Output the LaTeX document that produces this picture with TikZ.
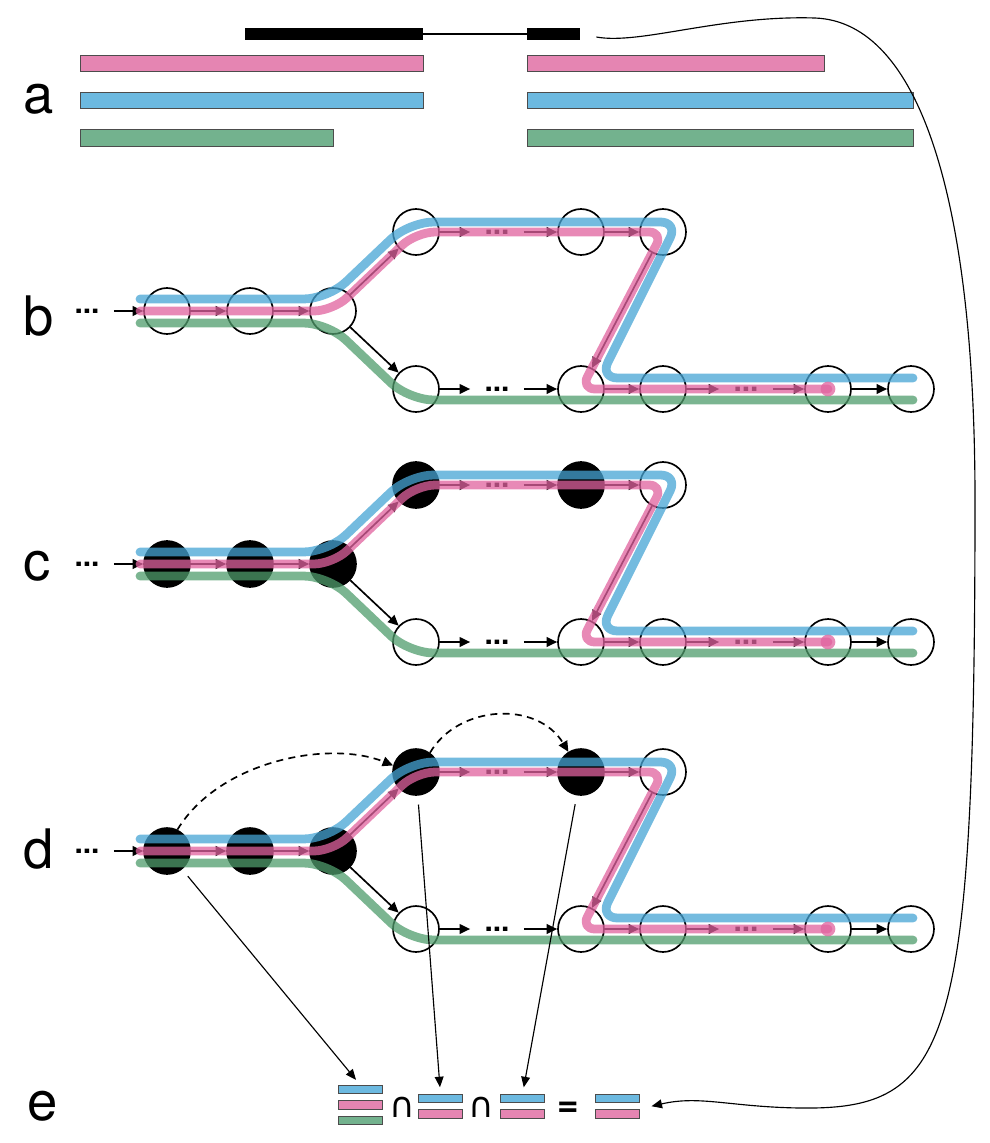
\documentclass[tikz,border=0pt]{standalone}
\usepackage{fontspec}
\setmainfont{TeX Gyre Heros}
\newfontfamily\capfont{DejaVu Sans}
\usetikzlibrary{arrows.meta,positioning,calc}

\definecolor{isoblue}{RGB}{108,185,224}
\definecolor{isopink}{RGB}{229,133,178}
\definecolor{isogreen}{RGB}{115,178,142}
\definecolor{trackblue}{RGB}{70,164,212}
\definecolor{trackpink}{RGB}{224,98,158}
\definecolor{trackgreen}{RGB}{79,156,108}

\tikzset{
  vertex/.style={circle, draw, line width=0.95pt, minimum size=0.92cm, inner sep=0pt},
  link/.style={line width=0.95pt, -{Triangle[length=6pt, width=5.5pt]}},
  pointer/.style={line width=0.65pt, -{Triangle[length=6pt, width=5pt]}, shorten <=5pt, shorten >=4pt},
  jump/.style={link, dash pattern=on 4pt off 3pt},
  track/.style={line width=5pt, opacity=0.75, line cap=round, line join=round, rounded corners=14pt},
  hdots/.style={inner xsep=8pt, inner ysep=0pt, font=\bfseries\fontsize{17}{17}\selectfont},
  isoform/.style={draw=black!70, line width=0.5pt},
  bar/.style={isoform, minimum width=0.88cm, minimum height=0.17cm, inner sep=0pt, outer sep=0pt},
  panel/.style={anchor=base west, font=\fontsize{31}{31}\selectfont},
}

\begin{document}
\begin{tikzpicture}[x=0.02cm, y=-0.02cm]
    \useasboundingbox (0,0) rectangle (990,1143);

    % gene model and isoforms
    \fill (245,28) rectangle (423,40);
    \draw[line width=1.4pt] (423,34) -- (527,34);
    \fill (527,28) rectangle (580,40);
    \coordinate (gene) at (580,34);
    \draw[isoform, fill=isopink] (80,55) rectangle (423,71);
    \draw[isoform, fill=isopink] (527,55) rectangle (824,71);
    \draw[isoform, fill=isoblue] (80,92) rectangle (423,108);
    \draw[isoform, fill=isoblue] (527,92) rectangle (913,108);
    \draw[isoform, fill=isogreen] (80,129) rectangle (333,146);
    \draw[isoform, fill=isogreen] (527,129) rectangle (913,146);

    \node[panel] (la) at (17,113) {a};
    \node[panel] (lb) at (17,335) {b};
    \node[panel] (lc) at (17,580) {c};
    \node[panel] (ld) at (17,868) {d};
    \node[panel] (le) at (21,1120) {e};

    % splice graphs
    \foreach \r/\dy/\fl in {b/0/none, c/253/black, d/540/black} {
        \node[hdots] (\r-0) at (87,311+\dy) {...};
        \node[vertex, fill=\fl] (\r-1) at (167,311+\dy) {};
        \node[vertex, fill=\fl] (\r-2) at (250,311+\dy) {};
        \node[vertex, fill=\fl] (\r-3) at (333,311+\dy) {};
        \node[vertex, fill=\fl] (\r-u1) at (416,232+\dy) {};
        \node[hdots] (\r-ud) at (497,232+\dy) {...};
        \node[vertex, fill=\fl] (\r-u2) at (581,232+\dy) {};
        \node[vertex] (\r-u3) at (663,232+\dy) {};
        \node[vertex] (\r-l1) at (416,389+\dy) {};
        \node[hdots] (\r-ld) at (497,389+\dy) {...};
        \node[vertex] (\r-l2) at (581,389+\dy) {};
        \node[vertex] (\r-l3) at (663,389+\dy) {};
        \node[hdots] (\r-lp) at (746,389+\dy) {...};
        \node[vertex] (\r-l4) at (828,389+\dy) {};
        \node[vertex] (\r-l5) at (911,389+\dy) {};

        \foreach \a/\b in {0/1, 1/2, 2/3, 3/u1, 3/l1, u1/ud, ud/u2, u2/u3, u3/l2,
                           l1/ld, ld/l2, l2/l3, l3/lp, lp/l4, l4/l5}
            \draw[link] (\r-\a) -- (\r-\b);

        \draw[track, trackblue] (140,299+\dy) -- (328,299+\dy) -- (409,222+\dy)
            [rounded corners=10pt] -- (678,222+\dy) -- (600,378+\dy) -- (913,378+\dy);
        \draw[track, trackgreen] (140,323+\dy) -- (328,323+\dy) -- (409,400+\dy)
            -- (913,400+\dy);
        \draw[track, trackpink, rounded corners=11pt] (140,311+\dy) -- (\r-3.center) -- (\r-u1.center)
            [rounded corners=8pt] -- (\r-u3.center) -- (\r-l2.center) -- (\r-l4.center);
        \fill[trackpink, opacity=0.75] (\r-l4) circle[radius=4.2pt];
    }

    \draw[jump] (d-1.64) .. controls (220,760) and (330,740) .. (d-u1.164);
    \draw[jump] (d-u1.54) .. controls (458,705) and (537,700) .. (d-u2.122);

    % intersection of compatible isoforms
    \node[bar, fill=isoblue] (e1b) at (360.5,1089.5) {};
    \node[bar, fill=isopink, below=0.14cm of e1b] (e1p) {};
    \node[bar, fill=isogreen, below=0.14cm of e1p] (e1g) {};
    \node[font=\capfont\fontsize{20}{20}\selectfont] (cap1) at (402,1107) {∩};
    \node[bar, fill=isoblue] (e2b) at (440.5,1098.5) {};
    \node[bar, fill=isopink, below=0.14cm of e2b] (e2p) {};
    \node[font=\capfont\fontsize{20}{20}\selectfont] (cap2) at (481,1107) {∩};
    \node[bar, fill=isoblue] (e3b) at (522.5,1098.5) {};
    \node[bar, fill=isopink, below=0.14cm of e3b] (e3p) {};
    \node[font=\bfseries\fontsize{21}{21}\selectfont] (eq) at (568,1109) {=};
    \node[bar, fill=isoblue] (e4b) at (617.5,1098.5) {};
    \node[bar, fill=isopink, below=0.14cm of e4b] (e4p) {};
    \coordinate (res) at ($(e4b.south east)!0.5!(e4p.north east) + (12,0)$);

    \draw[pointer] (d-1) -- (e1b.north);
    \draw[pointer] (d-u1) -- (e2b.north);
    \draw[pointer] (d-u2) -- (e3b.north);

    \draw[line width=0.65pt, -{Triangle[length=6pt, width=5pt]}, shorten <=9.5pt] (gene)
        .. controls (640,45) and (720,15) .. (815,18)
        .. controls (920,22) and (975,200) .. (975,500)
        .. controls (975,1050) and (950,1110) .. (800,1108)
        .. controls (730,1107) and (700,1095) .. (res);
\end{tikzpicture}
\end{document}
